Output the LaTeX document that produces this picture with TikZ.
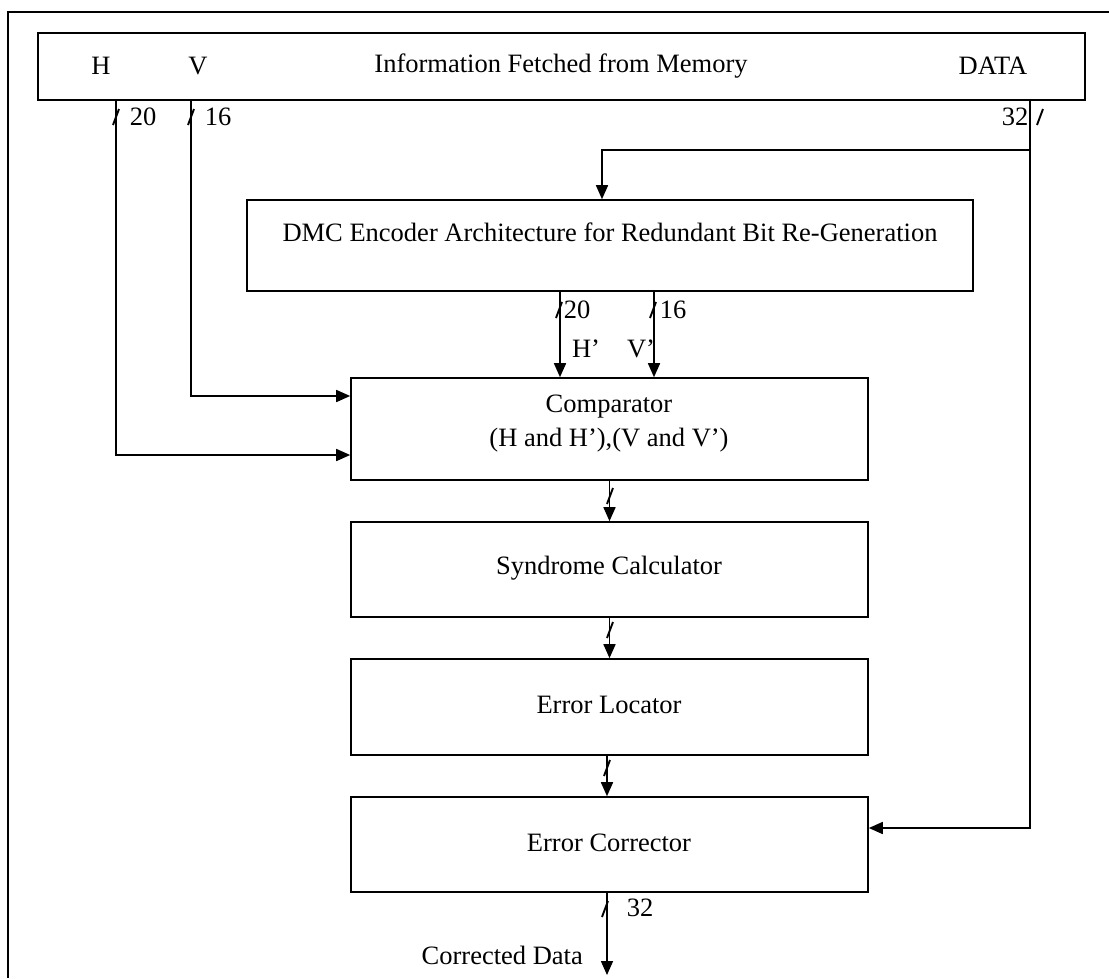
\documentclass[tikz,border=0pt]{standalone}
\usepackage{fontspec}
\setmainfont{Liberation Serif}
\usetikzlibrary{arrows.meta}
\begin{document}
\begin{tikzpicture}[x=1pt,y=-1pt,
  wire/.style={line width=1.6pt},
  arr/.style={wire,-{Triangle[length=14pt,width=12pt]}},
  box/.style={draw,line width=1.6pt,rectangle,inner sep=0pt},
  lbl/.style={inner sep=0pt,font=\fontsize{26.5}{31}\selectfont},
  slashmark/.style={line width=1.9pt}
]
\useasboundingbox (0,0) rectangle (1109,978);
% outer frame (cropped)
\draw[wire] (1109,12) -- (8,12) -- (8,978);

% boxes
\node[box,minimum width=1047pt,minimum height=67pt] (mem) at (561.5,66.5) {};
\node[box,minimum width=726pt,minimum height=91pt] (dmc) at (610,245.5) {};
\node[box,minimum width=517pt,minimum height=102pt] (cmp) at (609.5,429) {};
\node[box,minimum width=517pt,minimum height=95pt] (syn) at (609.5,569.5) {};
\node[box,minimum width=517pt,minimum height=96pt] (loc) at (609.5,707) {};
\node[box,minimum width=517pt,minimum height=95pt] (cor) at (609.5,844.5) {};

% box texts
\node[lbl] (tH) at (101,66) {H};
\node[lbl] (tV) at (198,66) {V};
\node[lbl] (tI) at (561,66) {Information Fetched from Memory};
\node[lbl] (tD) at (993,66) {DATA};
\node[lbl] (tDMC) at (610,232) {DMC Encoder Architecture for Redundant Bit Re-Generation};
\node[lbl] (tC1) at (609,407) {Comparator};
\node[lbl] (tC2) at (609,440) {(H and H’),(V and V’)};
\node[lbl] (tS) at (609,568) {Syndrome Calculator};
\node[lbl] (tL) at (609,705) {Error Locator};
\node[lbl] (tR) at (609,843) {Error Corrector};

% tap coordinates
\coordinate (hx) at (116,0);
\coordinate (vx) at (191,0);
\coordinate (dx) at (1030,0);
\coordinate (dbr) at (1030,150);
\coordinate (out) at (607,975);

% connectors
\draw[arr] (mem.south -| hx) |- (cmp.west |- 0,455);
\draw[arr] (mem.south -| vx) |- (cmp.west |- 0,396);
\draw[arr] (mem.south -| dx) |- (cor.east |- 0,828);
\draw[arr] (dbr) -| (dmc.north -| 602,0);
\draw[arr] (dmc.south -| 560,0) -- (cmp.north -| 560,0);
\draw[arr] (dmc.south -| 654,0) -- (cmp.north -| 654,0);
\draw[arr] (cmp.south) -- (syn.north);
\draw[arr] (syn.south) -- (loc.north);
\draw[arr] (loc.south -| 607,0) -- (cor.north -| 607,0);
\draw[arr] (cor.south -| out) -- (out);

% bus slash marks
\foreach \p in {(116,117),(191,117),(1040,117),(559,310),(653,310),(610,496),(610,630),(607,768),(605,909)}
  \draw[slashmark,shift={\p}] (-3,8) -- (3,-8);

% bus width labels
\node[lbl] (n20a) at (143,117) {20};
\node[lbl] (n16a) at (218,117) {16};
\node[lbl] (n32a) at (1015,117) {32};
\node[lbl] (n20b) at (577,310) {20};
\node[lbl] (n16b) at (673,310) {16};
\node[lbl] (nH) at (586,349) {H’};
\node[lbl] (nV) at (641,349) {V’};
\node[lbl] (n32b) at (640,908) {32};
\node[lbl,anchor=east] (nCD) at (583,955) {Corrected Data};
\end{tikzpicture}
\end{document}
